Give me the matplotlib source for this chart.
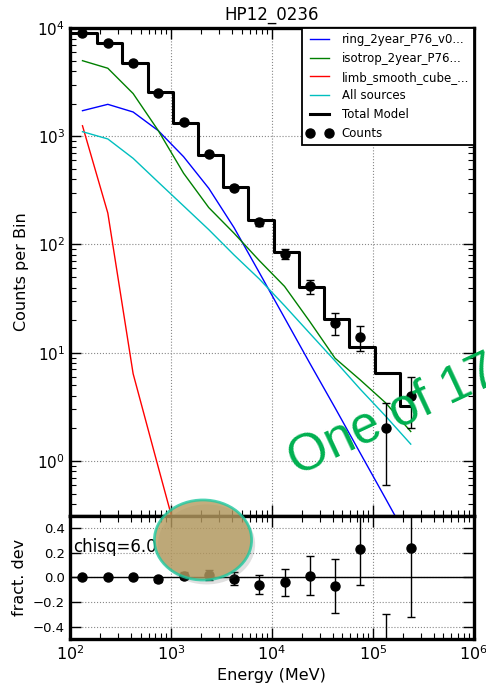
import numpy as np
import matplotlib
matplotlib.use("Agg")
import matplotlib.pyplot as plt
from matplotlib.patches import Ellipse

# bin centres (MeV) and spectra
energy = [133, 237, 422, 750, 1334, 2371, 4217, 7499, 13335, 23714, 42170, 74989, 133352, 237137]
counts = [8940, 7320, 4780, 2525, 1343, 688, 335, 160, 82, 41, 19, 14, 2, 4]
counts_err = [95, 86, 69, 50, 37, 26, 18, 12.6, 9.1, 6.4, 4.4, 3.7, 1.4, 2.0]
total_model = [8935, 7260, 4740, 2566, 1322, 675, 339, 170, 85, 40.4, 20.4, 11.35, 6.46, 3.23]

ring = [1722, 1972, 1675, 1125, 647, 330, 143, 55, 21, 8.0, 3.1, 1.18, 0.45, 0.17]
isotrop = [4990, 4248, 2480, 1125, 455, 219, 127, 71, 41, 19.4, 8.9, 5.6, 3.45, 1.87]
limb = [1250, 195, 6.4, 0.87, 0.12, np.nan, np.nan, np.nan, np.nan, np.nan, np.nan, np.nan, np.nan, np.nan]
all_sources = [1102, 944, 625, 376, 227, 137, 80, 48, 27.2, 15.1, 8.4, 4.6, 2.6, 1.43]

resid = [0.0, 0.008, 0.008, -0.016, 0.016, 0.019, -0.011, -0.06, -0.038, 0.014, -0.068, 0.234, -0.69, 0.239]
resid_err = [0.011, 0.012, 0.015, 0.02, 0.028, 0.038, 0.054, 0.077, 0.11, 0.158, 0.22, 0.296, 0.393, 0.557]

labels = ["ring_2year_P76_v0...", "isotrop_2year_P76...", "limb_smooth_cube_...", "All sources"]
colors = ["#0000ff", "#008000", "#ff0000", "#00bfbf"]

fig = plt.figure(figsize=(4.86, 6.9), dpi=100)
ax = fig.add_axes([0.144, 0.2522, 0.831, 0.7072])
axr = fig.add_axes([0.144, 0.0739, 0.831, 0.1783], sharex=ax)

for comp, lab, col in zip([ring, isotrop, limb, all_sources], labels, colors):
    ax.plot(energy, comp, color=col, lw=1, label=lab)

# step starts at the left edge of the axis
ax.step([100] + energy, [total_model[0]] + total_model, where="mid", color="k", lw=2.2, label="Total Model")
ax.errorbar(energy, counts, yerr=counts_err, fmt="o", color="k", ms=6.5, capsize=3, elinewidth=1)
ax.plot([], [], "o", color="k", ms=6.5, label="Counts")

ax.set_xscale("log")
ax.set_yscale("log")
ax.set_xlim(100, 1e6)
ax.set_ylim(0.31, 1e4)
ax.set_title("HP12_0236", fontsize=12)
ax.set_ylabel("Counts per Bin", fontsize=11.5, labelpad=6)
ax.grid(True, which="major", color="#888888", ls=":", lw=0.8)
ax.tick_params(labelbottom=False)

leg = ax.legend(loc="upper right", fontsize=8.5, numpoints=2, fancybox=False,
                borderaxespad=0, framealpha=1, edgecolor="k", handlelength=2.2)
leg.get_frame().set_linewidth(1.3)

axr.errorbar(energy, resid, yerr=resid_err, fmt="o", color="k", ms=6.5, capsize=3, elinewidth=1)
axr.axhline(0, color="k", lw=1)
axr.set_ylim(-0.5, 0.5)
axr.set_yticks([-0.4, -0.2, 0.0, 0.2, 0.4])
axr.set_xlabel("Energy (MeV)", fontsize=11.5)
axr.set_ylabel("fract. dev", fontsize=11.5)
axr.grid(True, which="major", color="#888888", ls=":", lw=0.8)
axr.text(0.008, 0.75, "chisq=6.0", transform=axr.transAxes, fontsize=12, va="center")

for a in (ax, axr):
    a.tick_params(which="both", direction="in", top=True, right=True, labelsize=9.5)
    a.tick_params(which="major", length=8, width=1)
    a.tick_params(which="minor", length=4, width=0.8)
    for s in a.spines.values():
        s.set_linewidth(2.4)
ax.tick_params(axis="y", labelsize=11)
axr.tick_params(axis="x", labelsize=11.5)

# presentation overlay: highlight ellipse and caption
shadow = Ellipse((0.425, 0.211), 0.2, 0.116, transform=fig.transFigure,
                 facecolor="#555555", edgecolor="none", alpha=0.18)
fig.add_artist(shadow)
oval = Ellipse((0.4177, 0.2174), 0.2, 0.116, transform=fig.transFigure,
               facecolor="#b59a5e", edgecolor="#1fc9a0", lw=2, alpha=0.8)
fig.add_artist(oval)
fig.text(297 / 486, 1 - 476 / 690, "One of 17", fontsize=37, color="#00b050",
         family="Liberation Sans", rotation=25, rotation_mode="anchor",
         ha="left", va="baseline")

fig.savefig("out.png", dpi=100)
